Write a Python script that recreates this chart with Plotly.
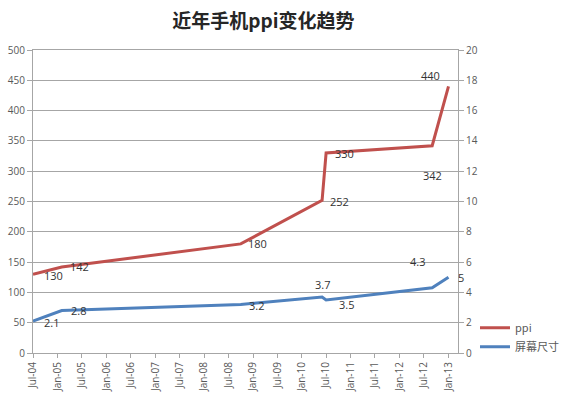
import plotly.graph_objects as go

# ---- data ----
ppi_dates = ["2004-07-01", "2005-02-01", "2008-10-01", "2010-06-01", "2010-07-01", "2012-09-01", "2013-01-01"]
ppi_values = [130, 142, 180, 252, 330, 342, 440]

size_dates = ["2004-07-01", "2005-02-01", "2008-10-01", "2010-06-01", "2010-07-01", "2012-09-01", "2013-01-01"]
size_values = [2.1, 2.8, 3.2, 3.7, 3.5, 4.3, 5]

series_names = ["ppi", "屏幕尺寸"]
title_text = "近年手机ppi变化趋势"

# ---- label offsets (style, px) ----
ppi_label_shift = [(20, -1), (18, 0), (17, 0), (17, -1), (18, 0), (0, -30), (-18, 11)]
size_label_shift = [(18, -1), (17, 0), (16, -1), (0, 12), (20, -5), (-15, 26), (12, 0)]

RED = "#C0504D"
BLUE = "#4F81BD"
GRID = "#A6A6A6"
TXT = "#595959"
LBL = "#333333"
FONT = "Open Sans"

fig = go.Figure()
fig.add_trace(go.Scatter(x=ppi_dates, y=ppi_values, mode="lines", name=series_names[0],
                         line=dict(color=RED, width=3), yaxis="y"))
fig.add_trace(go.Scatter(x=size_dates, y=size_values, mode="lines", name=series_names[1],
                         line=dict(color=BLUE, width=3), yaxis="y2"))

annotations = []
for d, v, (dx, dy) in zip(ppi_dates, ppi_values, ppi_label_shift):
    annotations.append(dict(x=d, y=v, xref="x", yref="y", text=str(v), showarrow=False,
                            xshift=dx, yshift=dy, font=dict(family=FONT, size=11, color=LBL)))
for d, v, (dx, dy) in zip(size_dates, size_values, size_label_shift):
    annotations.append(dict(x=d, y=v, xref="x", yref="y2", text=str(v), showarrow=False,
                            xshift=dx, yshift=dy, font=dict(family=FONT, size=11, color=LBL)))

fig.update_layout(
    width=570, height=395, autosize=False,
    margin=dict(l=33, r=112, t=50, b=42, autoexpand=False),
    paper_bgcolor="white", plot_bgcolor="white",
    title=dict(text="<b>" + title_text + "</b>", x=0.542, xref="paper", xanchor="center",
               y=0.945, yref="container", yanchor="middle",
               font=dict(family="Noto Sans CJK SC", size=19, color="#262626")),
    xaxis=dict(type="date", range=["2004-07-01", "2013-03-13"], tick0="2004-07-01", dtick="M6",
               tickformat="%b-%y", tickangle=-90, ticks="outside", ticklen=4, tickcolor=GRID,
               showline=True, linecolor=GRID, mirror=True, showgrid=False, zeroline=False,
               automargin=False, tickfont=dict(family=FONT, size=10, color=TXT)),
    yaxis=dict(range=[0, 500], dtick=50, showgrid=True, gridcolor=GRID, showline=True,
               linecolor=GRID, ticks="outside", ticklen=5, tickcolor=GRID, zeroline=False,
               automargin=False, tickfont=dict(family=FONT, size=10, color=TXT)),
    yaxis2=dict(range=[0, 20], dtick=2, overlaying="y", side="right", showgrid=False,
                showline=True, linecolor=GRID, ticks="outside", ticklen=5, tickcolor=GRID,
                zeroline=False, automargin=False, tickfont=dict(family=FONT, size=10, color=TXT)),
    legend=dict(x=1.04, xanchor="left", y=0.131, yanchor="top",
                font=dict(family="Noto Sans CJK SC", size=11, color=TXT),
                bgcolor="rgba(0,0,0,0)", tracegroupgap=0),
    annotations=annotations,
    showlegend=True,
)

fig.write_html("out.html", config={"displayModeBar": False},
               post_script="document.body.style.margin='0';document.body.style.overflow='hidden';")
